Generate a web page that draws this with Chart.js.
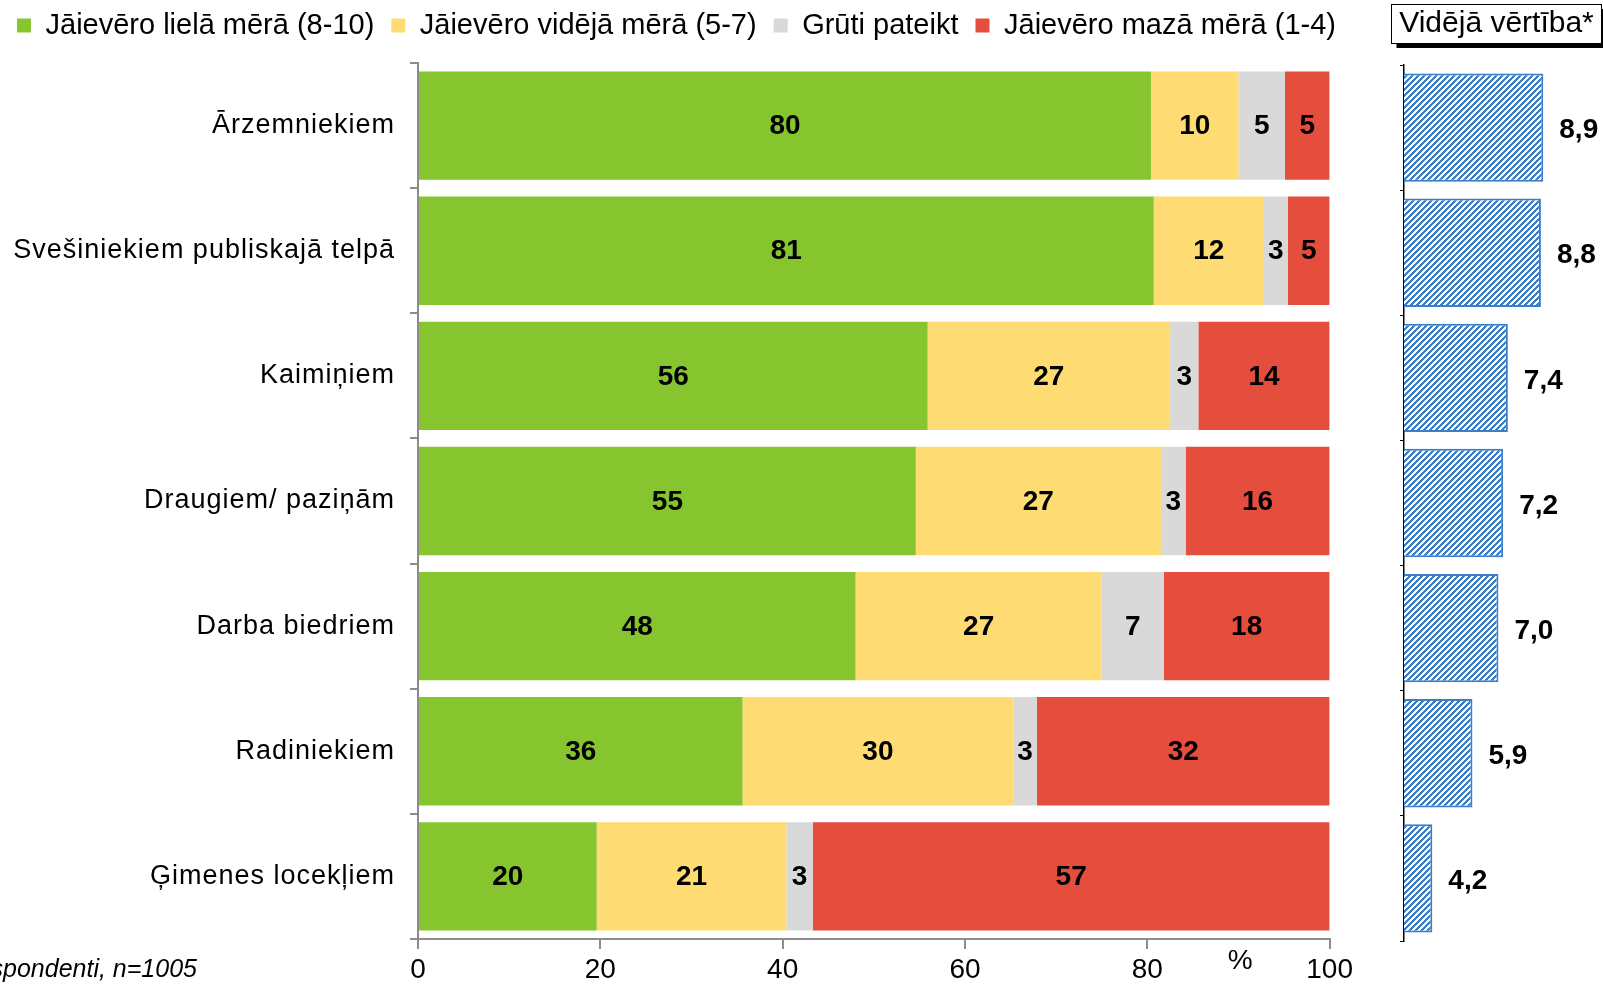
<!DOCTYPE html>
<html>
<head>
<meta charset="utf-8">
<script src="https://cdn.jsdelivr.net/npm/chart.js"></script>
<style>
  body { margin: 0; background: #fff; width: 1603px; height: 984px; overflow: hidden; position: relative; }
  #main { position: absolute; left: 0; top: -6px; }
  #avg { position: absolute; left: 1390px; top: 0; }
  #note { position: absolute; left: -300px; width: 497px; top: 954px; text-align: right;
          font: italic 25px "Liberation Sans", Arial, sans-serif; color: #000; white-space: nowrap; }
</style>
</head>
<body>
<canvas id="main" width="1357" height="990"></canvas>
<canvas id="avg" width="213" height="984"></canvas>
<div id="note">Visi respondenti, n=1005</div>
<script>
const categories = ['Ārzemniekiem', 'Svešiniekiem publiskajā telpā', 'Kaimiņiem', 'Draugiem/ paziņām', 'Darba biedriem', 'Radiniekiem', 'Ģimenes locekļiem'];
const seriesNames = ['Jāievēro lielā mērā (8-10)', 'Jāievēro vidējā mērā (5-7)', 'Grūti pateikt', 'Jāievēro mazā mērā (1-4)'];
const high = [80.4, 80.7, 55.9, 54.6, 48.0, 35.6, 19.6];
const medium = [9.6, 12.1, 26.6, 26.9, 27.0, 29.7, 20.8];
const hard = [5.1, 2.6, 3.1, 2.7, 6.8, 2.6, 2.9];
const low = [4.9, 4.6, 14.4, 15.8, 18.2, 32.1, 56.7];
const meanValues = [8.9, 8.8, 7.4, 7.2, 7.0, 5.9, 4.2];
const percentTicks = [0, 20, 40, 60, 80, 100];
const meanTitle = 'Vidējā vērtība*';

const colors = ['#87c52f', '#ffdc73', '#d9d9d9', '#e54d3d'];
const blue = '#3b7dc8';
const font = '"Liberation Sans", Arial, sans-serif';

// crisp diagonal hatch, like the office pattern fill
function makeHatch() {
    let tile = document.createElement('canvas');
    tile.width = 6;
    tile.height = 6;
    let c = tile.getContext('2d');
    c.fillStyle = '#fff';
    c.fillRect(0, 0, 6, 6);
    c.fillStyle = blue;
    for (let x = 0; x < 6; x++)
        for (let y = 0; y < 6; y++)
            if ((x + y) % 6 < 3) c.fillRect(x, y, 1, 1);
    return c.createPattern(tile, 'repeat');
}

// extra room under the legend
const legendGap = {
    id: 'legendGap',
    beforeLayout(chart) {
        let lg = chart.legend;
        if (!lg || lg._gap) return;
        const fit = lg.fit;
        lg.fit = function () {
            fit.call(this);
            this.height += 13;
        };
        lg._gap = true;
    }
};

// spaced out category labels like the original
const spacedLabels = {
    id: 'spacedLabels',
    beforeDraw(chart) {
        let s = chart.scales.y;
        if (s._spaced) return;
        const orig = s.drawLabels;
        s.drawLabels = function (area) {
            this.ctx.save();
            this.ctx.letterSpacing = '1px';
            orig.call(this, area);
            this.ctx.restore();
        };
        s._spaced = true;
    }
};

const barLabels = {
    id: 'barLabels',
    afterDatasetsDraw(chart) {
        let ctx = chart.ctx;
        ctx.save();
        ctx.font = 'bold 28px ' + font;
        ctx.fillStyle = '#000';
        ctx.textAlign = 'center';
        ctx.textBaseline = 'middle';
        chart.data.datasets.forEach((ds, i) => {
            chart.getDatasetMeta(i).data.forEach((bar, j) => {
                ctx.fillText(Math.round(ds.data[j]), (bar.x + bar.base) / 2, bar.y + 1);
            });
        });
        ctx.restore();
    },
    afterDraw(chart) {
        let ctx = chart.ctx;
        let x = chart.scales.x;
        ctx.save();
        ctx.font = '28px ' + font;
        ctx.fillStyle = '#000';
        ctx.textAlign = 'center';
        ctx.textBaseline = 'middle';
        ctx.fillText('%', x.getPixelForValue(90.2), x.top + 22);
        ctx.restore();
    }
};

function mainChart(id) {
    const series = [high, medium, hard, low];
    const data = {
        labels: categories,
        datasets: series.map((vals, i) => ({
            label: seriesNames[i],
            data: vals,
            backgroundColor: colors[i],
            borderWidth: 0,
            barPercentage: 0.866,
            categoryPercentage: 1
        }))
    };

    const config = {
        type: 'bar',
        data: data,
        options: {
            indexAxis: 'y',
            responsive: false,
            animation: false,
            layout: { padding: 0 },
            plugins: {
                legend: {
                    position: 'top',
                    align: 'start',
                    labels: {
                        boxWidth: 14,
                        boxHeight: 14,
                        padding: 17,
                        color: '#000',
                        font: { family: font, size: 29 }
                    }
                },
                tooltip: { enabled: false }
            },
            scales: {
                x: {
                    stacked: true,
                    min: 0,
                    max: 100,
                    afterBuildTicks: (scale) => { scale.ticks = percentTicks.map(v => ({ value: v })); },
                    afterFit: (scale) => { scale.height = 45; },
                    border: { display: true, color: '#8c8c8c', width: 2 },
                    grid: { drawOnChartArea: false, tickLength: 10, color: '#8c8c8c', lineWidth: 2 },
                    ticks: { color: '#000', padding: 4, font: { family: font, size: 28 } }
                },
                y: {
                    stacked: true,
                    afterFit: (scale) => { scale.width = 418; },
                    border: { display: true, color: '#8c8c8c', width: 2 },
                    grid: { offset: true, drawOnChartArea: false, tickLength: 8, color: '#8c8c8c', lineWidth: 2 },
                    ticks: { color: '#000', padding: 15, font: { family: font, size: 27 } }
                }
            }
        },
        plugins: [legendGap, spacedLabels, barLabels]
    };

    let ctx = document.getElementById(id).getContext('2d');
    new Chart(ctx, config);
}

const titleBox = {
    id: 'titleBox',
    beforeDraw(chart) {
        let ctx = chart.ctx;
        let tb = chart.titleBlock;
        ctx.save();
        ctx.font = '30px ' + font;
        let w = ctx.measureText(meanTitle).width;
        let cx = (tb.left + tb.right) / 2;
        let x0 = Math.round(cx - w / 2 - 8) + 0.5;
        let x1 = Math.round(cx + w / 2 + 7) + 0.5;
        ctx.fillStyle = '#000';
        ctx.fillRect(x0 + 5, 9, x1 - x0, 39);
        ctx.fillStyle = '#fff';
        ctx.fillRect(x0, 4.5, x1 - x0, 39);
        ctx.strokeStyle = '#000';
        ctx.lineWidth = 1;
        ctx.strokeRect(x0, 4.5, x1 - x0, 39);
        ctx.restore();
    }
};

const meanLabels = {
    id: 'meanLabels',
    afterDatasetsDraw(chart) {
        let ctx = chart.ctx;
        ctx.save();
        ctx.font = 'bold 28px ' + font;
        ctx.fillStyle = '#000';
        ctx.textAlign = 'left';
        ctx.textBaseline = 'middle';
        chart.getDatasetMeta(0).data.forEach((bar, j) => {
            ctx.fillText(meanValues[j].toFixed(1).replace('.', ','), bar.x + 16, bar.y + 3);
        });
        ctx.restore();
    }
};

function meanChart(id) {
    const data = {
        labels: categories,
        datasets: [{
            label: meanTitle,
            data: meanValues,
            backgroundColor: makeHatch(),
            borderColor: blue,
            borderWidth: 2,
            borderSkipped: false,
            barPercentage: 0.866,
            categoryPercentage: 1
        }]
    };

    const config = {
        type: 'bar',
        data: data,
        options: {
            indexAxis: 'y',
            responsive: false,
            animation: false,
            layout: { padding: { left: 0, right: 0, top: 0, bottom: 43 } },
            plugins: {
                legend: { display: false },
                tooltip: { enabled: false },
                title: {
                    display: true,
                    text: meanTitle,
                    color: '#000',
                    font: { family: font, size: 30, weight: 'normal' },
                    padding: { top: 6, bottom: 23 }
                }
            },
            scales: {
                x: { display: false, min: 3, max: 11.43 },
                y: {
                    afterFit: (scale) => { scale.width = 14; },
                    border: { display: true, color: '#000', width: 1.5 },
                    grid: { offset: true, drawOnChartArea: false, tickLength: 4, color: '#000', lineWidth: 1 },
                    ticks: { display: false }
                }
            }
        },
        plugins: [titleBox, meanLabels]
    };

    let ctx = document.getElementById(id).getContext('2d');
    new Chart(ctx, config);
}

mainChart('main');
meanChart('avg');
</script>
</body>
</html>
